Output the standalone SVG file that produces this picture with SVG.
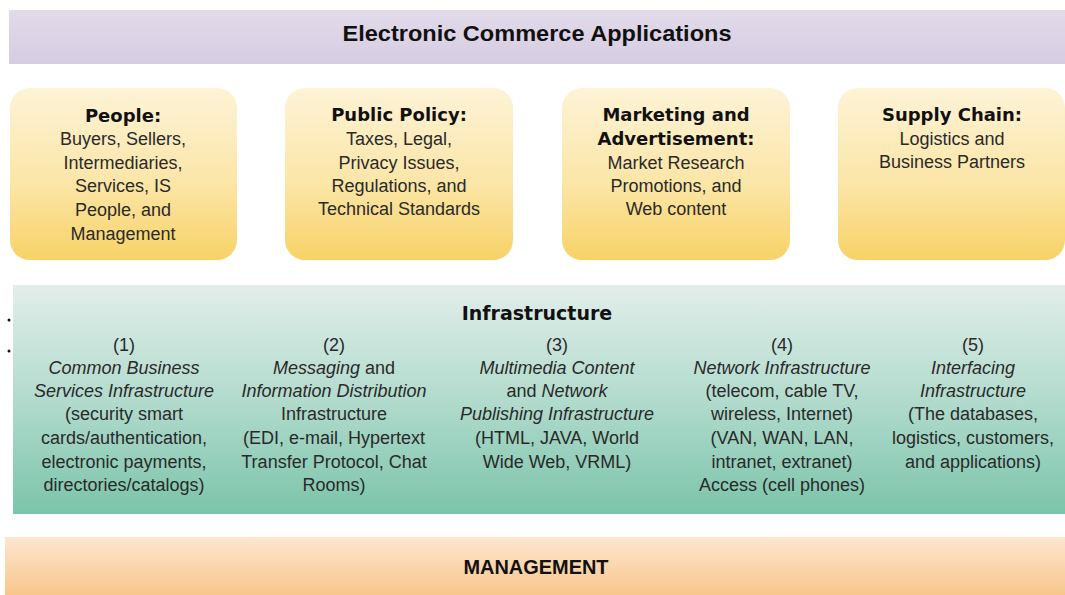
<svg xmlns="http://www.w3.org/2000/svg" width="1065" height="595" viewBox="0 0 1065 595">
  <defs>
    <linearGradient id="gTop" x1="0" y1="0" x2="0" y2="1">
      <stop offset="0" stop-color="#e2dbea"/>
      <stop offset="1" stop-color="#d6cce2"/>
    </linearGradient>
    <linearGradient id="gBox" x1="0" y1="0" x2="0" y2="1">
      <stop offset="0" stop-color="#fdf3d6"/>
      <stop offset="0.55" stop-color="#fbe6a8"/>
      <stop offset="1" stop-color="#f7d266"/>
    </linearGradient>
    <linearGradient id="gInfra" x1="0" y1="0" x2="0" y2="1">
      <stop offset="0" stop-color="#e2eeea"/>
      <stop offset="0.5" stop-color="#b2dbcd"/>
      <stop offset="1" stop-color="#7bc4aa"/>
    </linearGradient>
    <linearGradient id="gMgmt" x1="0" y1="0" x2="0" y2="1">
      <stop offset="0" stop-color="#fde6cf"/>
      <stop offset="1" stop-color="#f8c68c"/>
    </linearGradient>
  </defs>
  <style>
    text { fill: #1e1e1e; text-anchor: middle; }
    .band { font-family: "Liberation Sans", Arial, sans-serif; font-weight: bold; fill: #111; }
    .head { font-family: "DejaVu Sans", sans-serif; font-weight: bold; font-size: 18px; fill: #111; }
    .infra-head { font-family: "DejaVu Sans", sans-serif; font-weight: bold; font-size: 19px; fill: #111; }
    .body { font-family: "Liberation Sans", Arial, sans-serif; font-size: 18px; fill: #2a2a2a; }
    .it { font-style: italic; }
    .box { fill: url(#gBox); }
  </style>

  <rect width="1065" height="595" fill="#ffffff"/>

  <!-- top band -->
  <g id="applications">
    <rect x="9" y="10" width="1056" height="54" fill="url(#gTop)"/>
    <text class="band" x="537" y="41" font-size="22" textLength="389" lengthAdjust="spacingAndGlyphs">Electronic Commerce Applications</text>
  </g>

  <!-- support areas -->
  <g id="people">
    <rect class="box" x="10" y="88" width="227" height="172" rx="20"/>
    <text class="head" x="123" y="122">People:</text>
    <text class="body" x="123" y="145">Buyers, Sellers,</text>
    <text class="body" x="123" y="169">Intermediaries,</text>
    <text class="body" x="123" y="192">Services, IS</text>
    <text class="body" x="123" y="216">People, and</text>
    <text class="body" x="123" y="240">Management</text>
  </g>
  <g id="public-policy">
    <rect class="box" x="285" y="88" width="228" height="172" rx="20"/>
    <text class="head" x="399" y="121">Public Policy:</text>
    <text class="body" x="399" y="145">Taxes, Legal,</text>
    <text class="body" x="399" y="169">Privacy Issues,</text>
    <text class="body" x="399" y="192">Regulations, and</text>
    <text class="body" x="399" y="215">Technical Standards</text>
  </g>
  <g id="marketing">
    <rect class="box" x="562" y="88" width="228" height="172" rx="20"/>
    <text class="head" x="676" y="121">Marketing and</text>
    <text class="head" x="676" y="145">Advertisement:</text>
    <text class="body" x="676" y="169">Market Research</text>
    <text class="body" x="676" y="192">Promotions, and</text>
    <text class="body" x="676" y="215">Web content</text>
  </g>
  <g id="supply-chain">
    <rect class="box" x="838" y="88" width="227" height="172" rx="20"/>
    <text class="head" x="952" y="121">Supply Chain:</text>
    <text class="body" x="952" y="145">Logistics and</text>
    <text class="body" x="952" y="168">Business Partners</text>
  </g>

  <!-- infrastructure panel -->
  <g id="infrastructure">
    <rect x="13" y="285" width="1052" height="229" fill="url(#gInfra)"/>
    <circle cx="9" cy="320" r="1.5" fill="#111"/>
    <circle cx="9" cy="351" r="1.5" fill="#111"/>
    <text class="infra-head" x="537" y="320">Infrastructure</text>

    <g id="infra-1">
      <text class="body" x="124" y="351">(1)</text>
      <text class="body it" x="124" y="374">Common Business</text>
      <text class="body it" x="124" y="397">Services Infrastructure</text>
      <text class="body" x="124" y="420">(security smart</text>
      <text class="body" x="124" y="444">cards/authentication,</text>
      <text class="body" x="124" y="468">electronic payments,</text>
      <text class="body" x="124" y="491">directories/catalogs)</text>
    </g>
    <g id="infra-2">
      <text class="body" x="334" y="351">(2)</text>
      <text class="body" x="334" y="374"><tspan class="it">Messaging</tspan> and</text>
      <text class="body it" x="334" y="397">Information Distribution</text>
      <text class="body" x="334" y="420">Infrastructure</text>
      <text class="body" x="334" y="444">(EDI, e-mail, Hypertext</text>
      <text class="body" x="334" y="468">Transfer Protocol, Chat</text>
      <text class="body" x="334" y="491">Rooms)</text>
    </g>
    <g id="infra-3">
      <text class="body" x="557" y="351">(3)</text>
      <text class="body it" x="557" y="374">Multimedia Content</text>
      <text class="body" x="557" y="397">and <tspan class="it">Network</tspan></text>
      <text class="body it" x="557" y="420">Publishing Infrastructure</text>
      <text class="body" x="557" y="444">(HTML, JAVA, World</text>
      <text class="body" x="557" y="468">Wide Web, VRML)</text>
    </g>
    <g id="infra-4">
      <text class="body" x="782" y="351">(4)</text>
      <text class="body it" x="782" y="374">Network Infrastructure</text>
      <text class="body" x="782" y="397">(telecom, cable TV,</text>
      <text class="body" x="782" y="420">wireless, Internet)</text>
      <text class="body" x="782" y="444">(VAN, WAN, LAN,</text>
      <text class="body" x="782" y="468">intranet, extranet)</text>
      <text class="body" x="782" y="491">Access (cell phones)</text>
    </g>
    <g id="infra-5">
      <text class="body" x="973" y="351">(5)</text>
      <text class="body it" x="973" y="374">Interfacing</text>
      <text class="body it" x="973" y="397">Infrastructure</text>
      <text class="body" x="973" y="420">(The databases,</text>
      <text class="body" x="973" y="444">logistics, customers,</text>
      <text class="body" x="973" y="468">and applications)</text>
    </g>
  </g>

  <!-- bottom band -->
  <g id="management">
    <rect x="5" y="537" width="1060" height="58" fill="url(#gMgmt)"/>
    <text class="band" x="536" y="574" font-size="21" textLength="145" lengthAdjust="spacingAndGlyphs">MANAGEMENT</text>
  </g>

  <!-- no connectors in this layered layout -->
  <g id="connectors"/>
</svg>
